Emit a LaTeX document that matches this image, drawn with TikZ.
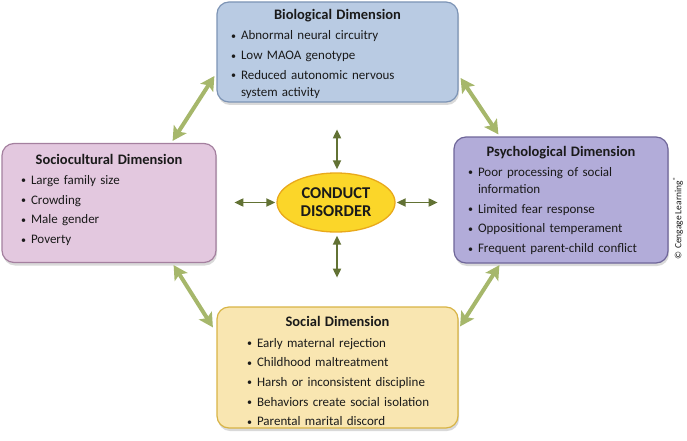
\documentclass[tikz,border=0pt]{standalone}
\usepackage{fontspec}
\setmainfont{Carlito}
\usetikzlibrary{arrows.meta,shapes.geometric,shadows,calc}
\definecolor{bioFill}{HTML}{B9CBE3}
\definecolor{bioDraw}{HTML}{7D94B5}
\definecolor{socFill}{HTML}{E3C8DF}
\definecolor{socDraw}{HTML}{A4809F}
\definecolor{psyFill}{HTML}{B2ACD9}
\definecolor{psyDraw}{HTML}{6F6699}
\definecolor{solFill}{HTML}{F9E6B1}
\definecolor{solDraw}{HTML}{D8B445}
\definecolor{cdFill}{HTML}{FBD629}
\definecolor{cdDraw}{HTML}{E9A91B}
\definecolor{arrowLight}{HTML}{A6B76B}
\definecolor{arrowDark}{HTML}{627234}
\definecolor{txt}{HTML}{1A1A1A}
\newcommand\dimtitle[1]{{\centering\fontsize{14.5}{17}\selectfont\bfseries\strut #1\par}\vspace{3.5pt}}
\newcommand\bitem[1]{\noindent\llap{\makebox[10pt][l]{\raisebox{0.6pt}{\fontsize{10}{10}\selectfont\textbullet}}}#1\par\vspace{2.7pt}}
\begin{document}
\begin{tikzpicture}[x=1pt,y=-1pt,
  dimbox/.style={draw, line width=1.2pt, rounded corners=12pt, inner sep=0pt,
    drop shadow={shadow xshift=1pt, shadow yshift=-3pt, opacity=0.25, fill=black!60}},
  dimtext/.style={anchor=north, inner sep=0pt, align=left,
    font=\fontsize{13}{17}\selectfont, text=txt},
  bigarrow/.style={draw=arrowLight, line width=4pt,
    {Stealth[length=14pt,width=15pt,inset=3pt]}-{Stealth[length=14pt,width=15pt,inset=3pt]}},
  smallarrow/.style={draw=arrowDark, line width=1.8pt,
    {Triangle[length=9pt,width=8pt]}-{Triangle[length=9pt,width=8pt]}}]
\useasboundingbox (0,0) rectangle (687,441);

% boxes
\node[dimbox, fill=bioFill, draw=bioDraw, minimum width=241pt, minimum height=100pt] (bio) at (337.5,52) {};
\node[dimbox, fill=socFill, draw=socDraw, minimum width=214pt, minimum height=119pt] (socio) at (109,203) {};
\node[dimbox, fill=psyFill, draw=psyDraw, minimum width=214pt, minimum height=126pt] (psych) at (561,200) {};
\node[dimbox, fill=solFill, draw=solDraw, minimum width=241pt, minimum height=121pt] (social) at (337.5,367.5) {};

% texts
\node[dimtext, text width=241pt] (biot) at ([yshift=-6pt]bio.north) {%
  \dimtitle{Biological Dimension}\leftskip=24pt
  \bitem{Abnormal neural circuitry}
  \bitem{Low MAOA genotype}
  \bitem{Reduced autonomic nervous\\system activity}};
\node[dimtext, text width=214pt] (sociot) at ([yshift=-9pt]socio.north) {%
  \dimtitle{Sociocultural Dimension}\leftskip=29pt
  \bitem{Large family size}
  \bitem{Crowding}
  \bitem{Male gender}
  \bitem{Poverty}};
\node[dimtext, text width=214pt] (psycht) at ([yshift=-7.5pt]psych.north) {%
  \dimtitle{Psychological Dimension}\leftskip=24pt
  \bitem{Poor processing of social\\information}
  \bitem{Limited fear response}
  \bitem{Oppositional temperament}
  \bitem{Frequent parent-child conflict}};
\node[dimtext, text width=241pt] (socialt) at ([yshift=-8pt]social.north) {%
  \dimtitle{Social Dimension}\leftskip=40pt
  \bitem{Early maternal rejection}
  \bitem{Childhood maltreatment}
  \bitem{Harsh or inconsistent discipline}
  \bitem{Behaviors create social isolation}
  \bitem{Parental marital discord}};

% center
\node[ellipse, fill=cdFill, draw=cdDraw, line width=1.3pt, minimum width=118pt, minimum height=59pt,
  align=center, inner sep=0pt, text=txt, font=\fontsize{16.5}{18}\selectfont\bfseries] (cd) at (336,202.5)
  {CONDUCT\\DISORDER};

% small arrows
\coordinate (t1) at ([shift={(1,-43)}]cd.north);
\coordinate (t2) at ([shift={(1,-3)}]cd.north);
\coordinate (b1) at ([shift={(1,3)}]cd.south);
\coordinate (b2) at ([shift={(1,45)}]cd.south);
\coordinate (l1) at ([shift={(-42,0)}]cd.west);
\coordinate (l2) at ([shift={(-1,0)}]cd.west);
\coordinate (r1) at ([shift={(1,0)}]cd.east);
\coordinate (r2) at ([shift={(42,0)}]cd.east);
\draw[smallarrow] (t1) -- (t2);
\draw[smallarrow] (b1) -- (b2);
\draw[smallarrow] (l1) -- (l2);
\draw[smallarrow] (r1) -- (r2);

% big arrows
\coordinate (bs1) at ([shift={(-2,24)}]bio.west);
\coordinate (bs2) at ([shift={(-44,-2)}]socio.north east);
\coordinate (bp1) at ([shift={(2,26)}]bio.east);
\coordinate (bp2) at ([shift={(45,-2)}]psych.north west);
\coordinate (ps1) at ([shift={(46,1.5)}]psych.south west);
\coordinate (ps2) at ([shift={(1.5,20)}]social.north east);
\coordinate (ss1) at ([shift={(-43,2)}]socio.south east);
\coordinate (ss2) at ([shift={(-3.5,21)}]social.north west);
\draw[bigarrow] (bs1) -- (bs2);
\draw[bigarrow] (bp1) -- (bp2);
\draw[bigarrow] (ps1) -- (ps2);
\draw[bigarrow] (ss1) -- (ss2);

% copyright
\node[rotate=90, inner sep=0pt, text=txt, font=\fontsize{9.5}{10}\selectfont] (copy) at (678,218)
  {© Cengage Learning\textsuperscript{®}};
\end{tikzpicture}
\end{document}
